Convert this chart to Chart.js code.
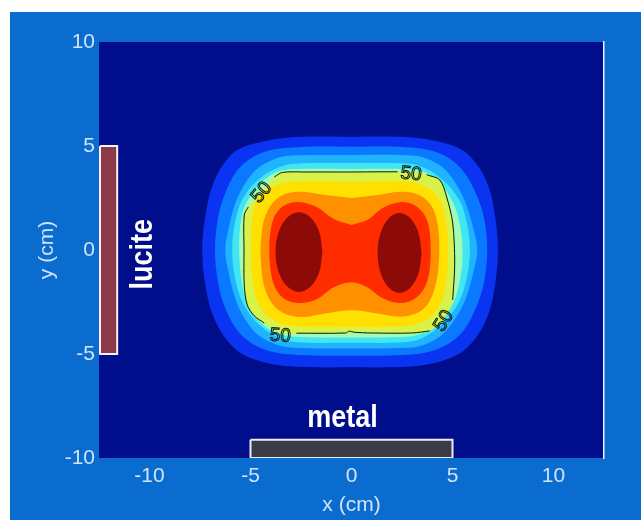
<!DOCTYPE html>
<html><head><meta charset="utf-8">
<script src="https://cdn.jsdelivr.net/npm/chart.js"></script>
<style>
html,body{margin:0;padding:0;background:#ffffff;width:641px;height:520px;overflow:hidden}
#wrap{position:absolute;left:10px;top:12px;width:631px;height:508px;background:#0B6CD0}
canvas{display:block}
</style></head><body>
<div id="wrap"><canvas id="c" width="631" height="508"></canvas></div>
<script>
// ---- axes ----
const xTicks = [-10, -5, 0, 5, 10];
const yTicks = [-10, -5, 0, 5, 10];
const xRange = [-12.5, 12.5];
const yRange = [-10, 10];

// ---- filled contour levels (outer boundary of each level, x/y in cm) ----
const level1 = [[0,5.45],[2.9,5.42],[4.35,5.2],[5.5,4.8],[6.15,4.18],[6.65,3.37],[7.0,2.26],[7.25,0],[7.0,-2.3],[6.6,-3.5],[6.05,-4.35],[5.35,-4.98],[4.3,-5.38],[2.9,-5.6],[0,-5.64],[-2.9,-5.6],[-4.4,-5.38],[-5.45,-4.98],[-6.15,-4.35],[-6.7,-3.5],[-7.12,-2.3],[-7.39,0],[-7.12,2.26],[-6.77,3.37],[-6.3,4.18],[-5.66,4.81],[-4.47,5.19],[-2.98,5.42],[0,5.45]];
const level2 = [[0,4.97],[2.6,4.95],[3.95,4.78],[4.95,4.33],[5.6,3.7],[6.15,2.74],[6.55,1.59],[6.72,0],[6.55,-1.6],[6.15,-2.8],[5.6,-3.8],[4.9,-4.45],[3.9,-4.88],[2.6,-5.05],[0,-5.08],[-2.6,-5.05],[-4.0,-4.88],[-5.0,-4.45],[-5.7,-3.8],[-6.25,-2.8],[-6.6,-1.6],[-6.76,0],[-6.6,1.59],[-6.25,2.74],[-5.75,3.7],[-5.1,4.33],[-4.1,4.78],[-2.5,4.95],[0,4.97]];
const level3 = [[0,4.57],[2.8,4.55],[3.7,4.4],[4.55,3.94],[5.15,3.22],[5.65,2.26],[6.05,0.96],[6.23,0],[6.05,-1.0],[5.65,-2.35],[5.1,-3.35],[4.45,-4.1],[3.6,-4.55],[2.8,-4.7],[0,-4.73],[-2.8,-4.7],[-3.7,-4.55],[-4.6,-4.1],[-5.25,-3.35],[-5.75,-2.35],[-6.1,-1.0],[-6.25,0],[-6.1,0.96],[-5.75,2.26],[-5.25,3.22],[-4.62,3.94],[-3.67,4.42],[-2.8,4.55],[0,4.57]];
const level4 = [[0,4.18],[2.8,4.15],[3.5,3.99],[4.3,3.55],[5.0,2.88],[5.55,1.92],[5.86,0],[5.55,-1.95],[5.0,-3.0],[4.25,-3.78],[3.45,-4.25],[2.6,-4.43],[0,-4.46],[-2.7,-4.43],[-3.55,-4.25],[-4.35,-3.78],[-5.1,-3.0],[-5.62,-1.95],[-5.91,0],[-5.62,1.92],[-5.1,2.88],[-4.4,3.55],[-3.55,3.99],[-2.8,4.15],[0,4.18]];
const level5 = [[0,3.9],[2.6,3.9],[3.45,3.8],[4.15,3.45],[4.75,2.75],[5.25,1.7],[5.5,0],[5.3,-1.8],[4.8,-2.95],[4.1,-3.65],[3.3,-4.08],[2.5,-4.18],[0,-4.21],[-2.6,-4.18],[-3.45,-4.08],[-4.25,-3.7],[-4.95,-2.95],[-5.38,-1.8],[-5.56,0],[-5.42,1.7],[-5.0,2.6],[-4.35,3.35],[-3.55,3.8],[-2.6,3.9],[0,3.9]];
const level6 = [[0,3.75],[2.3,3.76],[3.3,3.7],[3.72,3.62],[4.37,3.37],[4.71,2.55],[5.01,1.3],[5.11,-0.63],[5.01,-2.4],[4.57,-3.3],[3.87,-3.89],[3.0,-3.99],[0,-3.99],[-2.73,-4.0],[-3.5,-3.95],[-4.32,-3.51],[-4.81,-3.17],[-5.16,-2.64],[-5.31,-1.68],[-5.32,0],[-5.31,1.68],[-5.11,2.07],[-4.44,2.78],[-3.82,3.51],[-3.42,3.73],[-2.3,3.75],[0,3.75]];
const level7 = [[0,3.28],[2.5,3.32],[3.4,3.15],[4.1,2.75],[4.55,2.0],[4.76,0.8],[4.76,-0.8],[4.55,-2.2],[4.1,-3.05],[3.4,-3.5],[2.5,-3.68],[0,-3.7],[-2.5,-3.7],[-3.5,-3.55],[-4.25,-3.1],[-4.72,-2.3],[-4.96,-0.9],[-4.96,0.8],[-4.85,1.92],[-4.47,2.74],[-3.67,3.13],[-2.6,3.3],[0,3.28]];
const level8 = [[0,2.5],[1.3,2.65],[2.5,2.8],[3.4,2.62],[4.0,2.05],[4.3,1.0],[4.32,-0.6],[4.1,-1.9],[3.6,-2.8],[2.6,-3.2],[1.3,-3.05],[0,-2.88],[-1.3,-3.05],[-2.6,-3.22],[-3.6,-2.9],[-4.2,-2.1],[-4.47,-0.8],[-4.45,0.8],[-4.15,1.9],[-3.5,2.6],[-2.6,2.8],[-1.3,2.65],[0,2.5]];
const level9 = [[0,1.2],[0.8,1.45],[1.5,2.0],[2.4,2.3],[3.2,2.1],[3.75,1.4],[3.92,0],[3.75,-1.5],[3.2,-2.3],[2.4,-2.55],[1.5,-2.3],[0.8,-1.8],[0,-1.55],[-0.9,-1.8],[-1.7,-2.35],[-2.6,-2.55],[-3.4,-2.3],[-3.9,-1.5],[-4.07,0],[-3.9,1.4],[-3.4,2.1],[-2.6,2.31],[-1.7,2.05],[-0.9,1.5],[0,1.2]];
const level10a = [[-1.44,-0.1],[-1.595,0.86],[-2.02,1.56],[-2.6,1.82],[-3.18,1.56],[-3.605,0.86],[-3.76,-0.1],[-3.605,-1.06],[-3.18,-1.76],[-2.6,-2.02],[-2.02,-1.76],[-1.595,-1.06],[-1.44,-0.1]];
const level10b = [[3.47,-0.14],[3.32,0.82],[2.925,1.52],[2.38,1.78],[1.835,1.52],[1.44,0.82],[1.29,-0.14],[1.44,-1.1],[1.835,-1.8],[2.38,-2.06],[2.925,-1.8],[3.32,-1.1],[3.47,-0.14]];

// ---- the 50 contour line (broken where its labels sit) ----
const contour50 = [
  [-3.82,3.51],[-3.42,3.73],[-2.3,3.75],[0,3.75],[1.5,3.76],[2.28,3.76], null,
  [3.72,3.62],[4.37,3.37],[4.71,2.55],[5.01,1.3],[5.11,-0.63],[5.01,-2.4], null,
  [3.87,-3.89],[3.0,-3.99],[1.0,-3.99],[0.1,-3.95],[-0.1,-3.9],[-0.3,-3.99],[-2.73,-4.0], null,
  [-4.32,-3.51],[-4.81,-3.17],[-5.16,-2.64],[-5.31,-1.68],[-5.32,0],[-5.31,1.68],[-5.11,2.07]
];
const contourLevel = '50';
const contourLabelAt = [[-4.44,2.76],[2.95,3.65],[4.57,-3.41],[-3.52,-4.13]];
const contourLabelAngle = [-50, 6, -58, 3];

// ---- objects ----
const lucite = [[-12.45,5],[-11.6,5],[-11.6,-5],[-12.45,-5],[-12.45,5]];
const metal = [[-5,-9.12],[5,-9.12],[5,-10],[-5,-10],[-5,-9.12]];
const objectNames = ['lucite', 'metal'];
const objectLabelAt = [[-10.3,-0.2],[-0.45,-8.1]];

const levelColors = ['#0A34F2','#0A78FF','#20B4FF','#40E6F2','#A0FCB4','#D8F24A','#FFE000','#FF9000','#FF2C00','#8C0A08'];

const TXT = '#D2E2F8';
const FONT = '"Liberation Sans", Arial, Helvetica, sans-serif';

function pts(a){ return a.map(p => p ? {x:p[0], y:p[1]} : {x:null, y:null}); }
function bandDs(data, color, order){
  return {data: pts(data), showLine: true, fill: 'shape', backgroundColor: color,
    borderColor: 'rgba(0,0,0,0)', borderWidth: 0, pointRadius: 0, tension: 0.35, order};
}
const levels = [level1, level2, level3, level4, level5, level6, level7, level8, level9, level10a, level10b];
const datasets = levels.map((lv, i) => bandDs(lv, levelColors[Math.min(i, 9)], 30 - i));
datasets.push({data: pts(contour50), showLine: true, fill: false, borderColor: '#0c180c', borderWidth: 1,
  pointRadius: 0, tension: 0.3, spanGaps: false, order: 3});
datasets.push({data: pts(lucite), showLine: true, fill: 'shape', backgroundColor: '#8C3A4A',
  borderColor: '#F4F0F4', borderWidth: 2, pointRadius: 0, tension: 0, order: 2});
datasets.push({data: pts(metal), showLine: true, fill: 'shape', backgroundColor: '#3B3B47',
  borderColor: '#ECECF4', borderWidth: 2, pointRadius: 0, tension: 0, order: 1});

const plotBg = {
  id: 'plotBg',
  beforeDraw(chart){
    const {ctx, chartArea: a} = chart;
    ctx.save(); ctx.fillStyle = '#000E8C';
    ctx.fillRect(a.left, a.top, a.right - a.left, a.bottom - a.top);
    ctx.restore();
  }
};
const notes = {
  id: 'notes',
  afterDatasetsDraw(chart){
    const {ctx} = chart; const sx = chart.scales.x, sy = chart.scales.y;
    ctx.save();
    ctx.textAlign = 'center'; ctx.textBaseline = 'middle';
    ctx.font = '19px ' + FONT;
    ctx.strokeStyle = '#0c180c'; ctx.lineWidth = 1;
    contourLabelAt.forEach((p, i) => {
      ctx.save();
      ctx.translate(sx.getPixelForValue(p[0]), sy.getPixelForValue(p[1]));
      ctx.rotate(contourLabelAngle[i] * Math.PI / 180);
      ctx.strokeText(contourLevel, 0, 0);
      ctx.restore();
    });
    ctx.fillStyle = '#FFFFFF';
    ctx.font = 'bold 27px ' + FONT;
    objectNames.forEach((n, i) => {
      const p = objectLabelAt[i];
      ctx.save();
      ctx.translate(sx.getPixelForValue(p[0]), sy.getPixelForValue(p[1]));
      if (i === 0) ctx.rotate(-Math.PI / 2);
      ctx.scale(1, 1.15);
      ctx.fillText(n, 0, 0);
      ctx.restore();
    });
    ctx.restore();
  }
};

new Chart(document.getElementById('c'), {
  type: 'scatter',
  data: {datasets},
  options: {
    responsive: false, animation: false, events: [],
    layout: {padding: {top: 30, right: 37, left: 0, bottom: 0}},
    plugins: {legend: {display: false}, tooltip: {enabled: false}},
    scales: {
      x: {type: 'linear', min: xRange[0], max: xRange[1],
        afterBuildTicks: s => { s.ticks = xTicks.map(v => ({value: v})); },
        afterFit: s => { s.height = 62; },
        grid: {display: false, drawTicks: false}, border: {display: false},
        ticks: {color: TXT, font: {family: FONT, size: 21}, padding: 6, maxRotation: 0, autoSkip: false},
        title: {display: true, text: 'x (cm)', color: TXT, font: {family: FONT, size: 21}, padding: {top: 0, bottom: 2}}},
      y: {type: 'linear', min: yRange[0], max: yRange[1],
        afterBuildTicks: s => { s.ticks = yTicks.map(v => ({value: v})); },
        afterFit: s => { s.width = 89; },
        grid: {display: false, drawTicks: false}, border: {display: false},
        ticks: {color: TXT, font: {family: FONT, size: 21}, padding: 4, autoSkip: false},
        title: {display: true, text: 'y (cm)', color: TXT, font: {family: FONT, size: 21}, padding: {top: 25, bottom: 0}}},
      yr: {type: 'linear', position: 'right', min: yRange[0], max: yRange[1],
        afterFit: s => { s.width = 0; },
        grid: {display: false, drawTicks: false}, ticks: {display: false},
        border: {display: true, color: '#F0F0FA', width: 1.5}}
    }
  },
  plugins: [plotBg, notes]
});
</script>
</body></html>
